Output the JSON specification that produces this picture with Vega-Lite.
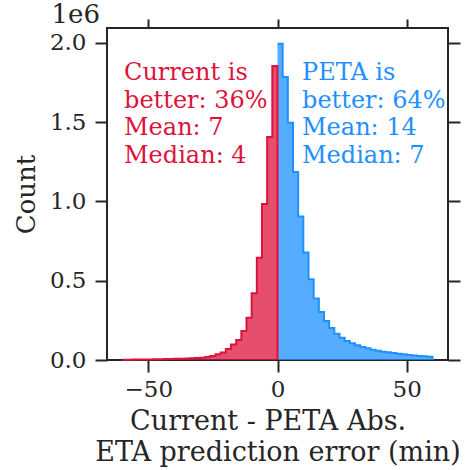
{
  "$schema": "https://vega.github.io/schema/vega-lite/v6.json",
  "autosize": "none",
  "width": 341,
  "height": 332,
  "padding": {"left": 107, "top": 28, "right": 26, "bottom": 110},
  "background": "white",
  "config": {
    "view": {"stroke": "#262626", "strokeWidth": 2},
    "axis": {"grid": false, "domain": false, "ticks": true, "tickColor": "#262626", "tickWidth": 2, "tickSize": 12, "labelFont": "DejaVu Serif", "labelFontSize": 23, "labelColor": "#262626", "titleFont": "DejaVu Serif", "titleFontSize": 26, "titleFontWeight": "normal", "titleColor": "#262626", "labelPadding": 9}
  },
  "datasets": {
    "bins": [
      {"edge": -60, "count": 2000, "side": "current"},
      {"edge": -58, "count": 2300, "side": "current"},
      {"edge": -56, "count": 2600, "side": "current"},
      {"edge": -54, "count": 3000, "side": "current"},
      {"edge": -52, "count": 3400, "side": "current"},
      {"edge": -50, "count": 3800, "side": "current"},
      {"edge": -48, "count": 4300, "side": "current"},
      {"edge": -46, "count": 4900, "side": "current"},
      {"edge": -44, "count": 5600, "side": "current"},
      {"edge": -42, "count": 6400, "side": "current"},
      {"edge": -40, "count": 7300, "side": "current"},
      {"edge": -38, "count": 8400, "side": "current"},
      {"edge": -36, "count": 9600, "side": "current"},
      {"edge": -34, "count": 11000, "side": "current"},
      {"edge": -32, "count": 12500, "side": "current"},
      {"edge": -30, "count": 14500, "side": "current"},
      {"edge": -28, "count": 19000, "side": "current"},
      {"edge": -26, "count": 25000, "side": "current"},
      {"edge": -24, "count": 36000, "side": "current"},
      {"edge": -22, "count": 47000, "side": "current"},
      {"edge": -20, "count": 69000, "side": "current"},
      {"edge": -18, "count": 98000, "side": "current"},
      {"edge": -16, "count": 126000, "side": "current"},
      {"edge": -14, "count": 183000, "side": "current"},
      {"edge": -12, "count": 267000, "side": "current"},
      {"edge": -10, "count": 421000, "side": "current"},
      {"edge": -8, "count": 645000, "side": "current"},
      {"edge": -6, "count": 984000, "side": "current"},
      {"edge": -4, "count": 1406000, "side": "current"},
      {"edge": -2, "count": 1853000, "side": "current"},
      {"edge": 0, "count": 0, "side": "current"},
      {"edge": 0, "count": 1994000, "side": "peta"},
      {"edge": 2, "count": 1784000, "side": "peta"},
      {"edge": 4, "count": 1496000, "side": "peta"},
      {"edge": 6, "count": 1185000, "side": "peta"},
      {"edge": 8, "count": 904000, "side": "peta"},
      {"edge": 10, "count": 677000, "side": "peta"},
      {"edge": 12, "count": 509000, "side": "peta"},
      {"edge": 14, "count": 388000, "side": "peta"},
      {"edge": 16, "count": 303000, "side": "peta"},
      {"edge": 18, "count": 246000, "side": "peta"},
      {"edge": 20, "count": 202000, "side": "peta"},
      {"edge": 22, "count": 166000, "side": "peta"},
      {"edge": 24, "count": 141000, "side": "peta"},
      {"edge": 26, "count": 120000, "side": "peta"},
      {"edge": 28, "count": 105000, "side": "peta"},
      {"edge": 30, "count": 93000, "side": "peta"},
      {"edge": 32, "count": 82000, "side": "peta"},
      {"edge": 34, "count": 74000, "side": "peta"},
      {"edge": 36, "count": 65000, "side": "peta"},
      {"edge": 38, "count": 59000, "side": "peta"},
      {"edge": 40, "count": 52000, "side": "peta"},
      {"edge": 42, "count": 49000, "side": "peta"},
      {"edge": 44, "count": 44000, "side": "peta"},
      {"edge": 46, "count": 40000, "side": "peta"},
      {"edge": 48, "count": 36000, "side": "peta"},
      {"edge": 50, "count": 32000, "side": "peta"},
      {"edge": 52, "count": 28000, "side": "peta"},
      {"edge": 54, "count": 25000, "side": "peta"},
      {"edge": 56, "count": 23000, "side": "peta"},
      {"edge": 58, "count": 21000, "side": "peta"},
      {"edge": 60, "count": 0, "side": "peta"}
    ],
    "notes": [
      {"edge": -59.4, "count": 1765000, "side": "current", "label": "Current is\nbetter: 36%\nMean: 7\nMedian: 4"},
      {"edge": 9.5, "count": 1765000, "side": "peta", "label": "PETA is\nbetter: 64%\nMean: 14\nMedian: 7"}
    ]
  },
  "resolve": {"axis": {"x": "independent", "y": "independent"}},
  "layer": [
    {
      "data": {"name": "bins"},
      "mark": {"type": "area", "interpolate": "step-after", "opacity": 0.75},
      "encoding": {
        "x": {"field": "edge", "type": "quantitative", "scale": {"domain": [-66, 66], "nice": false, "zero": false}, "axis": {"orient": "bottom", "values": [-50, 0, 50], "tickSize": 12, "labelPadding": 6, "title": ["Current - PETA Abs.\u2800", "ETA prediction error (min)"], "titleFontSize": 27, "titlePadding": 7, "titleLineHeight": 31}},
        "y": {"field": "count", "type": "quantitative", "scale": {"domain": [0, 2093000], "nice": false}, "axis": {"orient": "left", "values": [0, 500000, 1000000, 1500000, 2000000], "tickSize": 12, "labelPadding": 9, "labelExpr": "format(datum.value / 1000000, '.1f')", "title": "Count", "titlePadding": 10}},
        "color": {"field": "side", "type": "nominal", "scale": {"domain": ["current", "peta"], "range": ["#DC143C", "#1E90FF"]}, "legend": null}
      }
    },
    {
      "data": {"name": "bins"},
      "mark": {"type": "line", "interpolate": "step-after", "strokeWidth": 2},
      "encoding": {
        "x": {"field": "edge", "type": "quantitative", "axis": {"orient": "top", "values": [-50, 0, 50], "tickSize": 9, "labels": false, "title": "1e6", "titleAnchor": null, "titleX": -56, "titleY": -6, "titleAlign": "left", "titleBaseline": "alphabetic", "titleFontSize": 26, "titleAngle": 0}},
        "y": {"field": "count", "type": "quantitative", "axis": {"orient": "right", "values": [0, 500000, 1000000, 1500000, 2000000], "tickSize": 12, "labels": false, "title": null}},
        "color": {"field": "side", "type": "nominal", "legend": null}
      }
    },
    {
      "mark": {"type": "rule", "color": "black", "strokeWidth": 3},
      "encoding": {"x": {"datum": 0, "type": "quantitative", "axis": null}}
    },
    {
      "data": {"name": "notes"},
      "mark": {"type": "text", "align": "left", "baseline": "alphabetic", "font": "DejaVu Serif", "fontSize": 24, "lineBreak": "\n", "lineHeight": 27.5},
      "encoding": {
        "x": {"field": "edge", "type": "quantitative", "axis": null},
        "y": {"field": "count", "type": "quantitative", "axis": null},
        "text": {"field": "label"},
        "color": {"field": "side", "type": "nominal", "legend": null}
      }
    }
  ]
}
